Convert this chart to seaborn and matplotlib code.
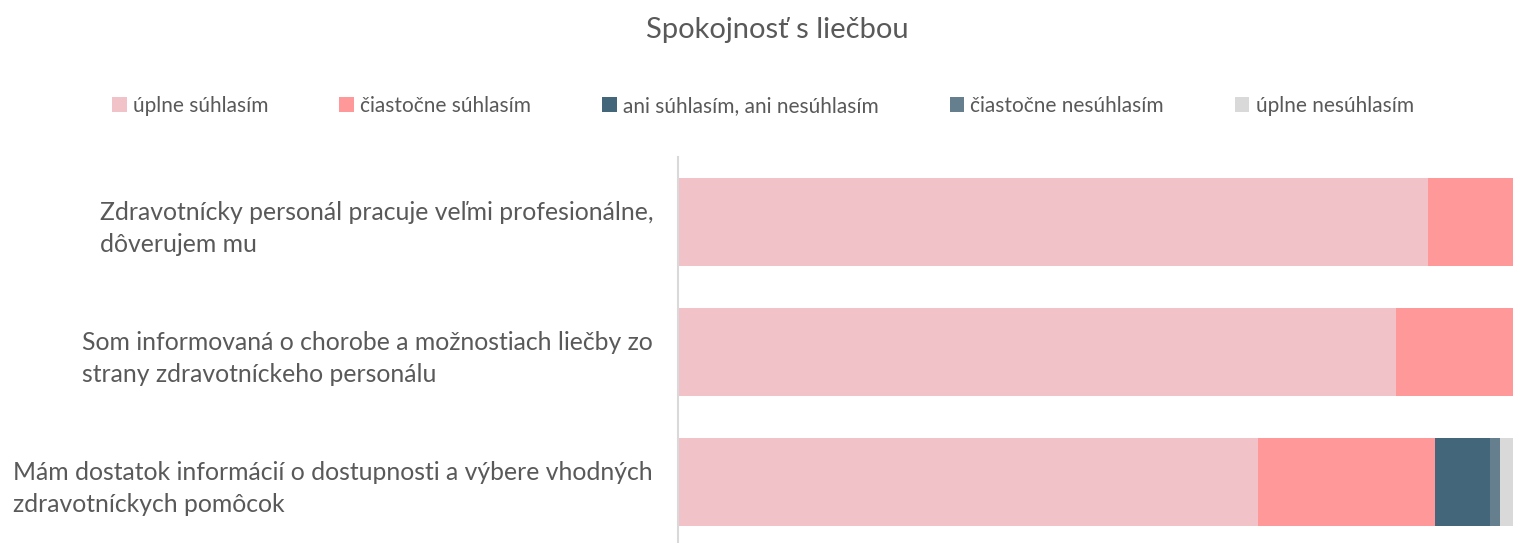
"""Stacked satisfaction bars recreated with seaborn."""

import matplotlib

matplotlib.use("Agg", force=True)

import matplotlib.pyplot as plt
import pandas as pd
import seaborn as sns
from matplotlib.patches import Patch

statements = [
    "Zdravotnícky personál pracuje veľmi profesionálne,\ndôverujem mu",
    "Som informovaná o chorobe a možnostiach liečby zo\nstrany zdravotníckeho personálu",
    "Mám dostatok informácií o dostupnosti a výbere vhodných\nzdravotníckych pomôcok",
]
answers = [
    "úplne súhlasím",
    "čiastočne súhlasím",
    "ani súhlasím, ani nesúhlasím",
    "čiastočne nesúhlasím",
    "úplne nesúhlasím",
]
# percent of respondents per answer, one list per statement
fully_agree = [89.8, 86.0, 69.5]
partly_agree = [10.2, 14.0, 21.1]
neutral = [0.0, 0.0, 6.6]
partly_disagree = [0.0, 0.0, 1.2]
fully_disagree = [0.0, 0.0, 1.6]

colors = ["#F2C2C9", "#FF9999", "#44667A", "#667F8F", "#D9D9D9"]
text_color = "#595959"

sns.set_theme(style="white")
plt.rcParams["font.family"] = ["Lato", "DejaVu Sans"]

df = pd.DataFrame(
    {
        "statement": statements,
        answers[0]: fully_agree,
        answers[1]: partly_agree,
        answers[2]: neutral,
        answers[3]: partly_disagree,
        answers[4]: fully_disagree,
    }
)
cum = df[answers].cumsum(axis=1)

fig = plt.figure(figsize=(15.13, 5.43), dpi=100)
ax = fig.add_axes([678 / 1513, -4 / 543, 1 - 678 / 1513, 390 / 543])

# draw from the widest cumulative total down so each segment overlays the next
for answer, color in reversed(list(zip(answers, colors))):
    sns.barplot(
        x=cum[answer],
        y=df["statement"],
        color=color,
        width=0.67,
        orient="h",
        saturation=1,
        linewidth=0,
        ax=ax,
    )

ax.set_xlim(0, 100)
ax.set_ylim(2.5, -0.5)
ax.set_xlabel("")
ax.set_ylabel("")
ax.set_xticks([])
for side in ["top", "right", "bottom"]:
    ax.spines[side].set_visible(False)
ax.spines["left"].set_color("#D9D9D9")
ax.spines["left"].set_linewidth(1.5)
ax.tick_params(axis="y", length=0, pad=18, labelsize=17.8, labelcolor=text_color)
for label in ax.get_yticklabels():
    label.set_multialignment("left")
    label.set_linespacing(1.45)

fig.text(777 / 1513, 1 - 30 / 543, "Spokojnosť s liečbou", ha="center", va="center",
         fontsize=21, color=text_color)

handles = [Patch(facecolor=c, edgecolor="none") for c in colors]
fig.legend(
    handles,
    answers,
    loc="center",
    bbox_to_anchor=(763 / 1513, 1 - 106 / 543),
    ncol=5,
    frameon=False,
    fontsize=15,
    labelcolor=text_color,
    handlelength=0.7,
    handleheight=0.7,
    handletextpad=0.3,
    columnspacing=3.4,
)

fig.savefig("out.png", dpi=100)
plt.close(fig)
